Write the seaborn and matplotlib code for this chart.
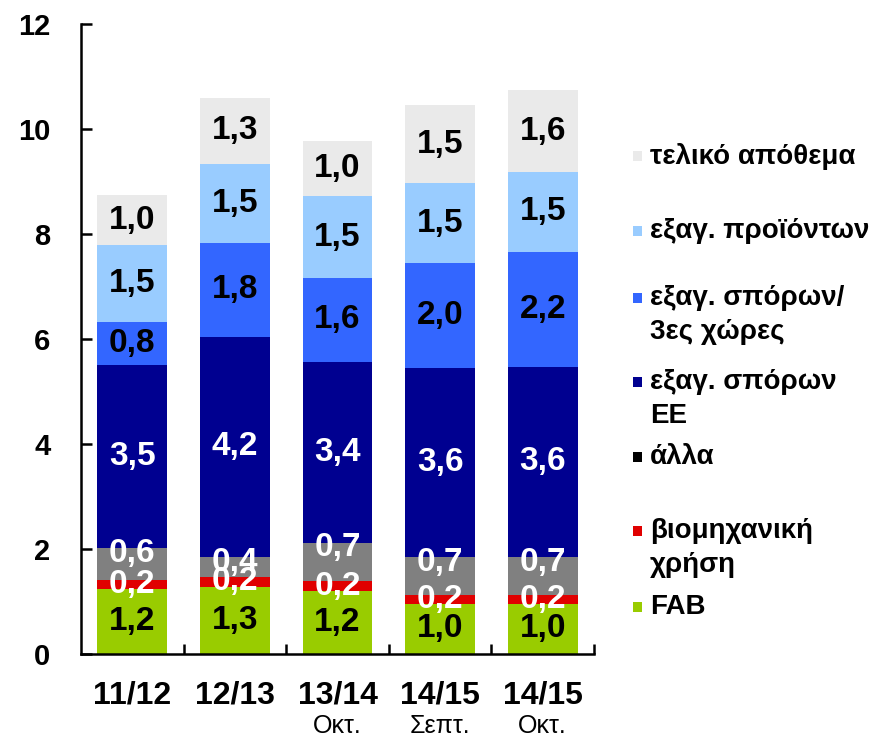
import matplotlib
matplotlib.use("Agg")
import matplotlib.pyplot as plt
import matplotlib.patches as mpatches
from matplotlib.ticker import FixedLocator
import numpy as np
import pandas as pd
import seaborn as sns

# Δεδομένα (εκατ. τόνοι), από κάτω προς τα πάνω
periods = ["11/12", "12/13", "13/14", "14/15", "14/15"]
period_notes = ["", "", "Οκτ.", "Σεπτ.", "Οκτ."]

fab = [1.23, 1.28, 1.20, 0.96, 0.96]
industrial = [0.18, 0.19, 0.18, 0.17, 0.17]
other = [0.60, 0.38, 0.74, 0.72, 0.72]
seed_eu = [3.49, 4.19, 3.44, 3.59, 3.62]
seed_third = [0.81, 1.78, 1.60, 2.00, 2.19]
products = [1.47, 1.51, 1.55, 1.52, 1.51]
stock = [0.96, 1.25, 1.05, 1.48, 1.56]

fab_lbl = ["1,2", "1,3", "1,2", "1,0", "1,0"]
industrial_lbl = ["0,2", "0,2", "0,2", "0,2", "0,2"]
other_lbl = ["0,6", "0,4", "0,7", "0,7", "0,7"]
seed_eu_lbl = ["3,5", "4,2", "3,4", "3,6", "3,6"]
seed_third_lbl = ["0,8", "1,8", "1,6", "2,0", "2,2"]
products_lbl = ["1,5", "1,5", "1,5", "1,5", "1,5"]
stock_lbl = ["1,0", "1,3", "1,0", "1,5", "1,6"]

layers = [
    ("FAB", fab, fab_lbl, "#99CC00", "black"),
    ("βιομηχανική\nχρήση", industrial, industrial_lbl, "#E00000", "white"),
    ("άλλα", other, other_lbl, "#808080", "white"),
    ("εξαγ. σπόρων\nΕΕ", seed_eu, seed_eu_lbl, "#000090", "white"),
    ("εξαγ. σπόρων/\n3ες χώρες", seed_third, seed_third_lbl, "#3366FF", "black"),
    ("εξαγ. προϊόντων", products, products_lbl, "#99CCFF", "black"),
    ("τελικό απόθεμα", stock, stock_lbl, "#EAEAEA", "black"),
]

sns.set_theme(style="white")
plt.rcParams["font.family"] = ["Liberation Sans", "DejaVu Sans"]
plt.rcParams["font.weight"] = "bold"

fig = plt.figure(figsize=(8.75, 7.42), dpi=100)
ax = fig.add_axes([0.0926, 0.1186, 0.5863, 0.8497])

keys = [f"{p} {n}".strip() for p, n in zip(periods, period_notes)]
cum = np.cumsum([np.array(l[1]) for l in layers], axis=0)

# στοιβαγμένες μπάρες: σχεδιάζουμε τα αθροίσματα από πάνω προς τα κάτω
for i in range(len(layers) - 1, -1, -1):
    df = pd.DataFrame({"period": keys, "value": cum[i]})
    sns.barplot(data=df, x="period", y="value", color=layers[i][3],
                saturation=1, width=0.68, errorbar=None, linewidth=0, ax=ax)

# ετικέτες τιμών
for i, (name, vals, lbls, col, tcol) in enumerate(layers):
    for j in range(len(keys)):
        top = cum[i][j]
        y = top - vals[j] / 2
        if name == "άλλα":
            y = top - 0.1
        ax.text(j, y, lbls[j], ha="center", va="center", color=tcol,
                fontsize=24, fontweight="bold")

ax.set_xlim(-0.5, 4.5)
ax.set_ylim(0, 12)
ax.set_yticks(range(0, 13, 2))
ax.set_xlabel("")
ax.set_ylabel("")
ax.set_xticks(range(len(keys)))
ax.set_xticklabels(periods)
ax.xaxis.set_minor_locator(FixedLocator([0.5, 1.5, 2.5, 3.5, 4.5]))
ax.tick_params(axis="y", left=True, direction="in", length=8, width=1.8,
               labelsize=21, pad=22, colors="black")
ax.tick_params(axis="x", which="major", bottom=True, length=0, labelsize=23,
               pad=19, colors="black")
ax.tick_params(axis="x", which="minor", bottom=True, direction="in",
               length=7, width=1.8, color="black")
for lab in ax.get_xticklabels() + ax.get_yticklabels():
    lab.set_fontweight("bold")

for side in ["top", "right"]:
    ax.spines[side].set_visible(False)
for side in ["left", "bottom"]:
    ax.spines[side].set_color("black")
    ax.spines[side].set_linewidth(1.8)

for j, note in enumerate(period_notes):
    if note:
        ax.annotate(note, xy=(j, 0), xycoords=("data", "axes fraction"),
                    xytext=(0, -52), textcoords="offset points",
                    ha="center", va="center", fontsize=18,
                    fontweight="normal", color="black")

# υπόμνημα
W, H = 875, 742
legend_rows = [
    ("τελικό απόθεμα", "#EAEAEA", 156),
    ("εξαγ. προϊόντων", "#99CCFF", 231),
    ("εξαγ. σπόρων/\n3ες χώρες", "#3366FF", 298),
    ("εξαγ. σπόρων\nΕΕ", "#000090", 382),
    ("άλλα", "black", 457),
    ("βιομηχανική\nχρήση", "#E00000", 531),
    ("FAB", "#99CC00", 607),
]
for text, col, ypx in legend_rows:
    fig.patches.append(mpatches.Rectangle(
        (633 / W, 1 - (ypx + 5) / H), 9 / W, 10 / H,
        transform=fig.transFigure, facecolor=col, edgecolor="none"))
    lines = text.split("\n")
    for k, line in enumerate(lines):
        fig.text(650 / W, 1 - (ypx + k * 34) / H, line, ha="left", va="center",
                 fontsize=20, fontweight="bold", color="black")

fig.savefig("out.png", dpi=100)
